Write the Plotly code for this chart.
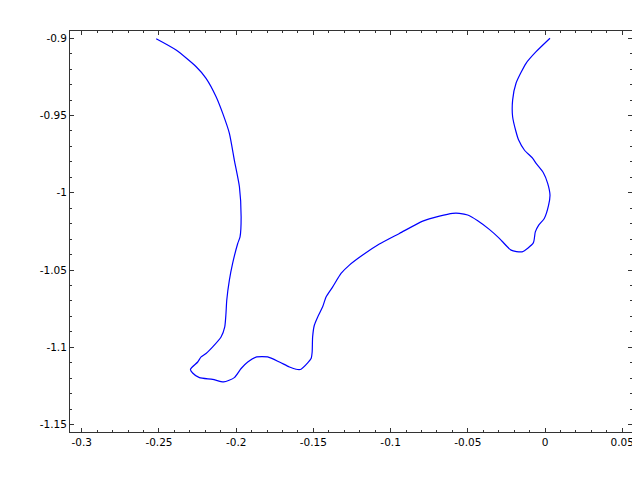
import plotly.graph_objects as go

# 曲線の座標
curve_x = [
    -0.2518, -0.2389, -0.2259, -0.2195, -0.2130, -0.2087, -0.2044, -0.2012, -0.1979, -0.1968,
    -0.1975, -0.1990, -0.2023, -0.2044, -0.2061, -0.2066, -0.2074, -0.2098, -0.2152, -0.2195,
    -0.2227, -0.2249, -0.2296, -0.2282, -0.2238, -0.2152, -0.2081, -0.2012, -0.1968, -0.1925,
    -0.1867, -0.1796, -0.1720, -0.1655, -0.1612, -0.1580, -0.1537, -0.1515, -0.1508, -0.1505,
    -0.1494, -0.1472, -0.1440, -0.1418, -0.1375, -0.1321, -0.1267, -0.1181, -0.1073, -0.0943,
    -0.0792, -0.0684, -0.0598, -0.0555, -0.0501, -0.0436, -0.0361, -0.0296, -0.0275, -0.0220,
    -0.0149, -0.0076, -0.0063, -0.0041, -0.0005, 0.0023, 0.0032, 0.0017, -0.0011, -0.0058,
    -0.0080, -0.0134, -0.0171, -0.0188, -0.0210, -0.0210, -0.0188, -0.0123, -0.0058, 0.0032,
]
curve_y = [
    -0.9003, -0.9076, -0.9184, -0.9259, -0.9378, -0.9486, -0.9615, -0.9788, -0.9961, -1.0155,
    -1.0285, -1.0328, -1.0457, -1.0565, -1.0695, -1.0781, -1.0867, -1.0933, -1.0997, -1.1040,
    -1.1062, -1.1095, -1.1142, -1.1166, -1.1196, -1.1207, -1.1224, -1.1196, -1.1137, -1.1095,
    -1.1062, -1.1062, -1.1095, -1.1127, -1.1142, -1.1142, -1.1101, -1.1073, -1.1030, -1.0933,
    -1.0857, -1.0803, -1.0738, -1.0674, -1.0609, -1.0522, -1.0468, -1.0403, -1.0332, -1.0263,
    -1.0183, -1.0151, -1.0133, -1.0133, -1.0144, -1.0181, -1.0237, -1.0295, -1.0317, -1.0371,
    -1.0382, -1.0324, -1.0253, -1.0209, -1.0166, -1.0080, -1.0015, -0.9939, -0.9870, -0.9810,
    -0.9777, -0.9723, -0.9659, -0.9605, -0.9508, -0.9400, -0.9291, -0.9162, -0.9087, -0.9000,
]

# 目盛り
x_ticks = [-0.3, -0.25, -0.2, -0.15, -0.1, -0.05, 0, 0.05]
x_labels = ["-0.3", "-0.25", "-0.2", "-0.15", "-0.1", "-0.05", "0", "0.05"]
y_ticks = [-0.9, -0.95, -1.0, -1.05, -1.1, -1.15]
y_labels = ["-0.9", "-0.95", "-1", "-1.05", "-1.1", "-1.15"]

fig = go.Figure()
fig.add_trace(go.Scatter(
    x=curve_x,
    y=curve_y,
    mode='lines',
    line=dict(color='#0000ff', width=1.2, shape='spline', smoothing=0.6),
    showlegend=False,
))

axis_common = dict(
    showgrid=False,
    zeroline=False,
    showline=True,
    automargin=False,
    linecolor='#333333',
    linewidth=1,
    mirror='allticks',
    ticks='inside',
    ticklen=4,
    tickwidth=1,
    tickcolor='#333333',
    tickfont=dict(family='DejaVu Sans', size=10.5, color='#000000'),
    minor=dict(ticks='inside', ticklen=2, tickwidth=1, tickcolor='#333333', dtick=0.01),
)

# ページ本体の余白 (8px) を差し引いたサイズ
fig.update_layout(
    width=632,
    height=472,
    margin=dict(l=62, r=8, t=23, b=48),
    paper_bgcolor='white',
    plot_bgcolor='white',
    xaxis=dict(range=[-0.3076, 0.0563], tickvals=x_ticks, ticktext=x_labels, **axis_common),
    yaxis=dict(range=[-1.1548, -0.8953], tickvals=y_ticks, ticktext=y_labels, **axis_common),
)

fig.write_html("out.html")
